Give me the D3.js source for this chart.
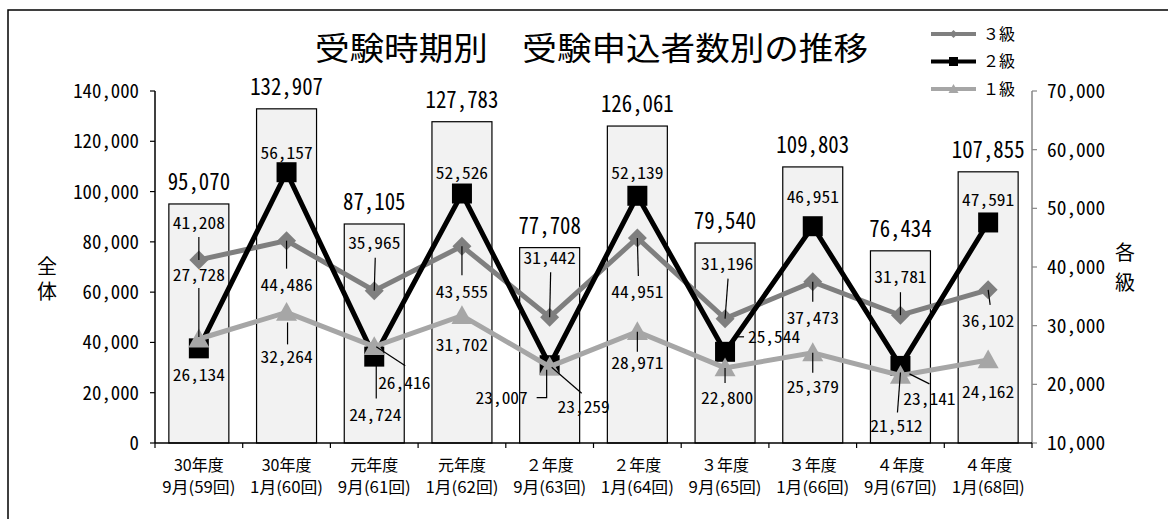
<!DOCTYPE html>
<html lang="ja">
<head>
<meta charset="utf-8">
<script src="https://cdn.jsdelivr.net/npm/d3@7"></script>
<style>
  html, body { margin: 0; padding: 0; background: #fff; }
  svg { display: block; }
</style>
</head>
<body>
<svg id="chart" width="1168" height="519"></svg>
<script>
// ---- data ----
const yearLabels = ["30年度", "30年度", "元年度", "元年度", "２年度", "２年度", "３年度", "３年度", "４年度", "４年度"];
const sessionLabels = ["9月(59回)", "1月(60回)", "9月(61回)", "1月(62回)", "9月(63回)", "1月(64回)", "9月(65回)", "1月(66回)", "9月(67回)", "1月(68回)"];
const totalApplicants = [95070, 132907, 87105, 127783, 77708, 126061, 79540, 109803, 76434, 107855];
const grade3 = [41208, 44486, 35965, 43555, 31442, 44951, 31196, 37473, 31781, 36102];
const grade2 = [26134, 56157, 24724, 52526, 23259, 52139, 25544, 46951, 23141, 47591];
const grade1 = [27728, 32264, 26416, 31702, 23007, 28971, 22800, 25379, 21512, 24162];
const leftTicks = [0, 20000, 40000, 60000, 80000, 100000, 120000, 140000];
const rightTicks = [10000, 20000, 30000, 40000, 50000, 60000, 70000];
const seriesNames = ["３級", "２級", "１級"];
const titleText = "受験時期別　受験申込者数別の推移";
const leftAxisTitle = "全体";
const rightAxisTitle = "各級";

// ---- label placement (offsets from each marker, leader polylines) ----
const labelLayout = {
  g3: [
    {dx: 0, dy: -37, lead: [[0, -23], [0, 0]]},
    {dx: 0, dy: 44, lead: [[0, 0], [0, 28]]},
    {dx: 0, dy: -48, lead: [[1, -33], [0, 0]]},
    {dx: 0, dy: 46, lead: [[0, 0], [0, 29]]},
    {dx: 0, dy: -59, lead: [[1, -45], [0, 0]]},
    {dx: 0, dy: 54, lead: [[0, 0], [1, 38]]},
    {dx: 2, dy: -55, lead: [[3, -40], [0, 0]]},
    {dx: 0, dy: 36, lead: [[0, 0], [0, 20]]},
    {dx: 0, dy: -38, lead: [[0, -23], [0, 0]]},
    {dx: 0, dy: 31, lead: [[0, 0], [2, 15]]}
  ],
  g2: [
    {dx: 0, dy: 27, lead: null},
    {dx: 0, dy: -19, lead: null},
    {dx: 1, dy: 58, lead: [[2, 7], [2, 42]]},
    {dx: 0, dy: -21, lead: null},
    {dx: 34, dy: 42, lead: [[2, 2], [32, 28]]},
    {dx: 0, dy: -23, lead: null},
    {dx: 49, dy: -15, lead: [[12, -15], [19, -15]]},
    {dx: 0, dy: -29, lead: null},
    {dx: 29, dy: 33, lead: [[9, 8], [29, 18]]},
    {dx: 0, dy: -22, lead: null}
  ],
  g1: [
    {dx: 0, dy: -64, lead: [[0, -51], [0, -2]]},
    {dx: 0, dy: 45, lead: [[1, 10], [1, 32]]},
    {dx: 30, dy: 36, lead: [[2, 0], [31, 19]]},
    {dx: 0, dy: 29, lead: null},
    {dx: -48, dy: 31, lead: [[-13, 31], [-3, 31], [-3, 3]]},
    {dx: 0, dy: 31, lead: [[0, 0], [0, 20]]},
    {dx: 2, dy: 30, lead: [[0, 0], [0, 15]]},
    {dx: 0, dy: 34, lead: [[0, 0], [0, 20]]},
    {dx: -4, dy: 51, lead: [[0, -3], [-3, 37]]},
    {dx: 0, dy: 32, lead: null}
  ]
};

// ---- setup ----
const svg = d3.select("#chart");
const W = 1168, H = 519;
const plot = {left: 155, right: 1032, top: 91, bottom: 443};
const jpFont = "'Noto Sans CJK JP', 'Noto Sans', sans-serif";
const numFont = "'Noto Sans Mono CJK JP', 'Liberation Mono', monospace";
const fmt = d3.format(",");

const x = d3.scaleBand()
  .domain(d3.range(totalApplicants.length))
  .range([plot.left, plot.right])
  .paddingInner(0.316)
  .paddingOuter(0.158);
const cx = i => x(i) + x.bandwidth() / 2;
const yL = d3.scaleLinear().domain([0, 140000]).range([plot.bottom, plot.top]);
const yR = d3.scaleLinear().domain([10000, 70000]).range([plot.bottom, plot.top]);

// narrow, tall numerals: monospace glyphs held to a fixed advance per character
function numText(g, str, xPos, yCenter, size, charW, anchor) {
  return g.append("text")
    .attr("x", xPos)
    .attr("y", yCenter + size * 0.365)
    .attr("font-family", numFont)
    .attr("font-size", size)
    .attr("text-anchor", anchor || "middle")
    .attr("textLength", str.length * charW)
    .attr("lengthAdjust", "spacingAndGlyphs")
    .attr("fill", "#000")
    .text(str);
}

// outer frame
svg.append("rect")
  .attr("x", 8).attr("y", 10)
  .attr("width", W + 20).attr("height", H + 20)
  .attr("fill", "#fff").attr("stroke", "#000").attr("stroke-width", 1.5);

// title
svg.append("text")
  .attr("x", 591.5).attr("y", 48 + 32 * 0.37)
  .attr("text-anchor", "middle")
  .attr("font-family", jpFont)
  .attr("font-size", 32)
  .attr("textLength", 553)
  .attr("lengthAdjust", "spacingAndGlyphs")
  .text(titleText);

// ---- bars (全体, left axis) ----
const barG = svg.append("g");
barG.selectAll("rect")
  .data(totalApplicants)
  .join("rect")
  .attr("x", (d, i) => x(i))
  .attr("y", d => yL(d))
  .attr("width", x.bandwidth())
  .attr("height", d => yL(0) - yL(d))
  .attr("fill", "#f2f2f2")
  .attr("stroke", "#000")
  .attr("stroke-width", 1.2);

totalApplicants.forEach((d, i) => {
  numText(barG, fmt(d), cx(i), yL(d) - 22, 23, 10.4);
});

// ---- axes ----
const axisG = svg.append("g");
// left axis
axisG.append("line")
  .attr("x1", plot.left).attr("x2", plot.left)
  .attr("y1", plot.top).attr("y2", plot.bottom)
  .attr("stroke", "#000").attr("stroke-width", 1.5);
leftTicks.forEach(t => {
  axisG.append("line")
    .attr("x1", plot.left - 5).attr("x2", plot.left)
    .attr("y1", yL(t)).attr("y2", yL(t))
    .attr("stroke", "#000").attr("stroke-width", 1.2);
  numText(axisG, fmt(t), 139, yL(t), 19, 9.4, "end");
});
// right axis
axisG.append("line")
  .attr("x1", plot.right).attr("x2", plot.right)
  .attr("y1", plot.top).attr("y2", plot.bottom)
  .attr("stroke", "#868686").attr("stroke-width", 1.5);
rightTicks.forEach(t => {
  axisG.append("line")
    .attr("x1", plot.right).attr("x2", plot.right + 5)
    .attr("y1", yR(t)).attr("y2", yR(t))
    .attr("stroke", "#868686").attr("stroke-width", 1.2);
  numText(axisG, fmt(t), 1047, yR(t), 19, 9.7, "start");
});
// category axis
axisG.append("line")
  .attr("x1", plot.left).attr("x2", plot.right)
  .attr("y1", plot.bottom).attr("y2", plot.bottom)
  .attr("stroke", "#000").attr("stroke-width", 1.5);
d3.range(totalApplicants.length + 1).forEach(k => {
  const bx = plot.left + k * x.step();
  axisG.append("line")
    .attr("x1", bx).attr("x2", bx)
    .attr("y1", plot.bottom).attr("y2", plot.bottom + 5)
    .attr("stroke", "#000").attr("stroke-width", 1.2);
});
yearLabels.forEach((lab, i) => {
  axisG.append("text")
    .attr("x", cx(i)).attr("y", 465 + 16 * 0.37)
    .attr("text-anchor", "middle")
    .attr("font-family", jpFont).attr("font-size", 16)
    .text(lab);
  axisG.append("text")
    .attr("x", cx(i)).attr("y", 487 + 16 * 0.37)
    .attr("text-anchor", "middle")
    .attr("font-family", jpFont).attr("font-size", 16)
    .attr("textLength", 73).attr("lengthAdjust", "spacingAndGlyphs")
    .text(sessionLabels[i]);
});
// axis titles, set vertically
function verticalTitle(str, tx, yTop, gap) {
  axisG.append("text")
    .attr("x", tx).attr("y", yTop)
    .attr("font-family", jpFont).attr("font-size", 20)
    .attr("writing-mode", "vertical-rl")
    .attr("text-anchor", "start")
    .attr("letter-spacing", gap)
    .text(str);
}
verticalTitle(leftAxisTitle, 47, 256, 5);
verticalTitle(rightAxisTitle, 1125, 242, 10);

// ---- line series (right axis) ----
const markers = {
  diamond: s => `M0,${-s}L${s},0L0,${s}L${-s},0Z`,
  square: s => `M${-s},${-s}H${s}V${s}H${-s}Z`,
  triangle: s => `M0,${-s}L${s},${s * 0.8}L${-s},${s * 0.8}Z`
};
const series = [
  {key: "g3", name: seriesNames[0], values: grade3, color: "#7f7f7f", marker: "diamond", size: 9.5, legendSize: 4},
  {key: "g2", name: seriesNames[1], values: grade2, color: "#000000", marker: "square", size: 10, legendSize: 4.5},
  {key: "g1", name: seriesNames[2], values: grade1, color: "#a6a6a6", marker: "triangle", size: 10.5, legendSize: 5}
];
const line = d3.line().x((d, i) => cx(i)).y(d => yR(d));
const lineG = svg.append("g");
series.forEach(s => {
  lineG.append("path")
    .attr("d", line(s.values))
    .attr("fill", "none")
    .attr("stroke", s.color)
    .attr("stroke-width", 5)
    .attr("stroke-linejoin", "miter");
  lineG.selectAll(null)
    .data(s.values)
    .join("path")
    .attr("transform", (d, i) => `translate(${cx(i)},${yR(d)})`)
    .attr("d", markers[s.marker](s.size))
    .attr("fill", s.color);
});

// ---- data labels with leader lines ----
const labelG = svg.append("g");
series.forEach(s => {
  s.values.forEach((v, i) => {
    const mx = cx(i), my = yR(v);
    const spec = labelLayout[s.key][i];
    if (spec.lead) {
      labelG.append("path")
        .attr("d", d3.line()(spec.lead.map(p => [mx + p[0], my + p[1]])))
        .attr("fill", "none")
        .attr("stroke", "#000")
        .attr("stroke-width", 1.2);
    }
    numText(labelG, fmt(v), mx + spec.dx, my + spec.dy, 16.5, 8.7);
  });
});

// ---- legend ----
const legendG = svg.append("g");
series.forEach((s, k) => {
  const ly = 34 + k * 27.5;
  legendG.append("line")
    .attr("x1", 931).attr("x2", 976)
    .attr("y1", ly).attr("y2", ly)
    .attr("stroke", s.color).attr("stroke-width", 4);
  legendG.append("path")
    .attr("transform", `translate(953.5,${ly})`)
    .attr("d", markers[s.marker](s.legendSize))
    .attr("fill", s.color);
  legendG.append("text")
    .attr("x", 983).attr("y", ly + 16 * 0.37)
    .attr("font-family", jpFont).attr("font-size", 16)
    .text(s.name);
});
</script>
</body>
</html>
